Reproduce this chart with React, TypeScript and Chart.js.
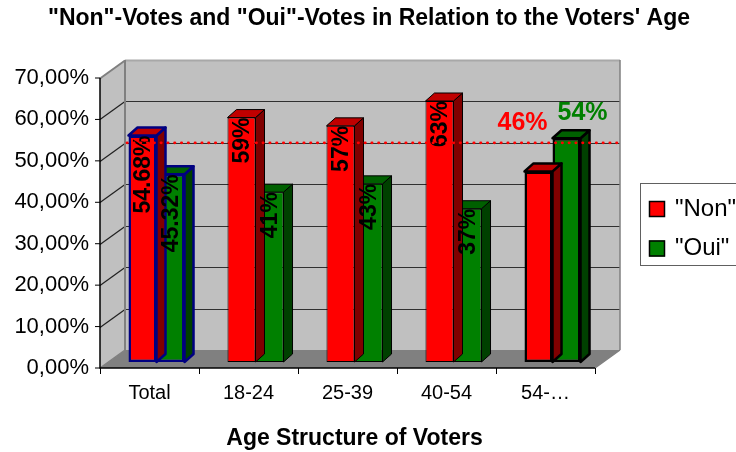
import React, { useEffect, useRef } from "react";
import { Chart, registerables } from "chart.js";

Chart.register(...registerables);

// ---- data ----
const ageGroups = ["Total", "18-24", "25-39", "40-54", "54-…"];
const nonVotes = [54.68, 59, 57, 63, 46];
const ouiVotes = [45.32, 41, 43, 37, 54];
const yTickValues = [0, 10, 20, 30, 40, 50, 60, 70];
const majorityShare = 50;
const seriesNames = ['"Non"', '"Oui"'];
const chartTitle = '"Non"-Votes and "Oui"-Votes in Relation to the Voters\' Age';
const axisTitle = "Age Structure of Voters";

// ---- styles ----
const FONT = '"Liberation Sans", Arial, Helvetica, sans-serif';
const frontColors = ["#ff0000", "#008000"];
const topColors = ["#c00000", "#006000"];
const sideColors = ["#800000", "#004000"];
const barBorderColors = ["#000080", "#000000", "#000000", "#000000", "#000000"];
const barBorderWidths = [2.5, 1, 1, 1, 2.5];
// value labels: rotated inside the bar, or horizontal above it
const labelModes = ["inside", "inside", "inside", "inside", "above"];
const aboveOffsets = [
  { dx: -16, dy: -48 },
  { dx: 16, dy: -25 },
];

// 3D geometry relative to the plane the bars stand in
const FRONT = { dx: -7, dy: 6 };
const BACK = { dx: 18, dy: -12 };
const BAR_DEPTH = { dx: 9, dy: 8 };

const fmtPct = (v: number) => `${v}%`;
const fmtAxis = (v: number) => v.toFixed(2).replace(".", ",") + "%";

function poly(ctx: CanvasRenderingContext2D, pts: number[][]) {
  ctx.beginPath();
  ctx.moveTo(pts[0][0], pts[0][1]);
  for (let i = 1; i < pts.length; i++) ctx.lineTo(pts[i][0], pts[i][1]);
  ctx.closePath();
}

const frame3d = {
  id: "frame3d",
  beforeDatasetsDraw(chart: any) {
    const { ctx, chartArea: a, scales } = chart;
    const x = scales.x;
    const y = scales.y;
    const yTop = y.getPixelForValue(yTickValues[yTickValues.length - 1]);
    const y0 = y.getPixelForValue(0);
    const fL = a.left + FRONT.dx;
    const fR = a.right + FRONT.dx;
    const bL = a.left + BACK.dx;
    const bR = a.right + BACK.dx;
    ctx.save();
    // back wall
    ctx.fillStyle = "#c0c0c0";
    ctx.fillRect(bL, yTop + BACK.dy, bR - bL, y0 - yTop);
    // left side wall
    poly(ctx, [
      [fL, yTop + FRONT.dy],
      [bL, yTop + BACK.dy],
      [bL, y0 + BACK.dy],
      [fL, y0 + FRONT.dy],
    ]);
    ctx.fillStyle = "#c0c0c0";
    ctx.fill();
    // floor
    poly(ctx, [
      [fL, y0 + FRONT.dy],
      [bL, y0 + BACK.dy],
      [bR, y0 + BACK.dy],
      [fR, y0 + FRONT.dy],
    ]);
    ctx.fillStyle = "#808080";
    ctx.fill();

    // grid lines on back and side walls
    yTickValues.forEach((v) => {
      if (v === 0) return;
      const py = Math.round(y.getPixelForValue(v)) + 0.5;
      const isTop = v === yTickValues[yTickValues.length - 1];
      ctx.lineWidth = isTop ? 2 : 1.2;
      ctx.strokeStyle = isTop ? "#a8a8a8" : "#303030";
      ctx.beginPath();
      ctx.moveTo(bL, py + BACK.dy);
      ctx.lineTo(bR, py + BACK.dy);
      ctx.stroke();
      ctx.strokeStyle = isTop ? "#808080" : "#202020";
      ctx.beginPath();
      ctx.moveTo(fL, py + FRONT.dy);
      ctx.lineTo(bL, py + BACK.dy);
      ctx.stroke();
    });
    // wall edges
    ctx.strokeStyle = "#808080";
    ctx.lineWidth = 2;
    ctx.beginPath();
    ctx.moveTo(bL, yTop + BACK.dy);
    ctx.lineTo(bL, y0 + BACK.dy);
    ctx.stroke();
    ctx.lineWidth = 1.5;
    ctx.beginPath();
    ctx.moveTo(bR, yTop + BACK.dy);
    ctx.lineTo(bR, y0 + BACK.dy);
    ctx.moveTo(fR, y0 + FRONT.dy);
    ctx.lineTo(bR, y0 + BACK.dy);
    ctx.moveTo(fL, y0 + FRONT.dy);
    ctx.lineTo(bL, y0 + BACK.dy);
    ctx.stroke();

    // front axes
    ctx.strokeStyle = "#000000";
    ctx.lineWidth = 1.5;
    ctx.beginPath();
    ctx.moveTo(fL, yTop + FRONT.dy);
    ctx.lineTo(fL, y0 + FRONT.dy);
    ctx.lineTo(fR, y0 + FRONT.dy);
    ctx.stroke();
    ctx.lineWidth = 1;
    ctx.beginPath();
    yTickValues.forEach((v) => {
      const py = y.getPixelForValue(v) + FRONT.dy;
      ctx.moveTo(fL - 5, py);
      ctx.lineTo(fL, py);
    });
    for (let i = 0; i <= ageGroups.length; i++) {
      const px = Math.round(x.getPixelForValue(i - 0.5) + FRONT.dx) + 0.5;
      ctx.moveTo(px, y0 + FRONT.dy);
      ctx.lineTo(px, y0 + FRONT.dy + 6);
    }
    ctx.stroke();
    ctx.restore();
  },
  beforeDatasetDraw(chart: any, args: any) {
    const { ctx } = chart;
    const di = args.index;
    const meta = args.meta;
    ctx.save();
    meta.data.forEach((bar: any, i: number) => {
      const { x, y, base, width } = bar.getProps(["x", "y", "base", "width"], true);
      const l = x - width / 2;
      const r = x + width / 2;
      ctx.lineWidth = barBorderWidths[i];
      ctx.strokeStyle = barBorderColors[i];
      ctx.lineJoin = "round";
      // side face
      poly(ctx, [
        [r, y],
        [r + BAR_DEPTH.dx, y - BAR_DEPTH.dy],
        [r + BAR_DEPTH.dx, base - BAR_DEPTH.dy],
        [r, base],
      ]);
      ctx.fillStyle = sideColors[di];
      ctx.fill();
      ctx.stroke();
      // top face
      poly(ctx, [
        [l, y],
        [l + BAR_DEPTH.dx, y - BAR_DEPTH.dy],
        [r + BAR_DEPTH.dx, y - BAR_DEPTH.dy],
        [r, y],
      ]);
      ctx.fillStyle = topColors[di];
      ctx.fill();
      ctx.stroke();
    });
    ctx.restore();
  },
  afterDatasetsDraw(chart: any) {
    const { ctx, chartArea: a, scales } = chart;
    const y = scales.y;
    ctx.save();
    // value labels
    chart.data.datasets.forEach((ds: any, di: number) => {
      const meta = chart.getDatasetMeta(di);
      meta.data.forEach((bar: any, i: number) => {
        const { x, y: top } = bar.getProps(["x", "y"], true);
        const text = fmtPct(ds.data[i]);
        if (labelModes[i] === "inside") {
          ctx.save();
          ctx.translate(x + 1, top);
          ctx.rotate(-Math.PI / 2);
          ctx.font = `bold 23px ${FONT}`;
          ctx.fillStyle = "#000000";
          ctx.textAlign = "right";
          ctx.textBaseline = "middle";
          ctx.fillText(text, 0, 0);
          ctx.restore();
        } else {
          const off = aboveOffsets[di];
          ctx.font = `bold 25px ${FONT}`;
          ctx.fillStyle = frontColors[di];
          ctx.textAlign = "center";
          ctx.textBaseline = "middle";
          ctx.fillText(text, x + off.dx, top + off.dy);
        }
      });
    });
    // majority line on the back wall
    const py = y.getPixelForValue(majorityShare) + BACK.dy;
    ctx.strokeStyle = "#ff0000";
    ctx.lineWidth = 2.8;
    ctx.lineCap = "round";
    ctx.setLineDash([0.3, 6.5]);
    ctx.beginPath();
    ctx.moveTo(a.left + BACK.dx + 2, py);
    ctx.lineTo(a.right + BACK.dx, py);
    ctx.stroke();
    ctx.setLineDash([]);
    ctx.restore();
  },
  afterDraw(chart: any) {
    const { ctx } = chart;
    ctx.save();
    // title
    ctx.font = `bold 23px ${FONT}`;
    ctx.fillStyle = "#000000";
    ctx.textAlign = "center";
    ctx.textBaseline = "middle";
    ctx.fillText(chartTitle, 369, 19);
    // legend
    const lx = 640.5;
    const ly = 183.5;
    ctx.fillStyle = "#ffffff";
    ctx.fillRect(lx, ly, 110, 82);
    ctx.strokeStyle = "#606060";
    ctx.lineWidth = 1;
    ctx.strokeRect(lx, ly, 110, 82);
    chart.data.datasets.forEach((ds: any, di: number) => {
      const sy = 201 + di * 39.5;
      ctx.fillStyle = frontColors[di];
      ctx.fillRect(649, sy, 16, 16);
      ctx.strokeStyle = "#000000";
      ctx.lineWidth = 1.5;
      ctx.strokeRect(649.5, sy + 0.5, 15, 15);
      ctx.font = `24px ${FONT}`;
      ctx.fillStyle = "#000000";
      ctx.textAlign = "left";
      ctx.textBaseline = "middle";
      ctx.fillText(ds.label, 675, sy + 8);
    });
    ctx.restore();
  },
};

export default function App() {
  const ref = useRef<HTMLCanvasElement | null>(null);
  useEffect(() => {
    if (!ref.current) return;
    const chart = new Chart(ref.current, {
      type: "bar",
      data: {
        labels: ageGroups,
        datasets: [
          {
            label: seriesNames[0],
            data: nonVotes,
            backgroundColor: frontColors[0],
            borderColor: barBorderColors,
            borderWidth: barBorderWidths,
            borderSkipped: false,
          },
          {
            label: seriesNames[1],
            data: ouiVotes,
            backgroundColor: frontColors[1],
            borderColor: barBorderColors,
            borderWidth: barBorderWidths,
            borderSkipped: false,
          },
        ],
      },
      plugins: [frame3d],
      options: {
        responsive: false,
        animation: false,
        devicePixelRatio: 1,
        layout: { padding: { left: 0, right: 134, top: 72, bottom: 0 } },
        datasets: {
          bar: { categoryPercentage: 0.566, barPercentage: 1 },
        },
        plugins: {
          legend: { display: false },
          title: { display: false },
          tooltip: { enabled: false },
        },
        scales: {
          x: {
            type: "category",
            grid: { display: false, drawTicks: false },
            border: { display: false },
            ticks: {
              font: { family: FONT, size: 20 },
              color: "#000000",
              padding: 19,
              labelOffset: FRONT.dx,
              maxRotation: 0,
              autoSkip: false,
            },
            title: {
              display: true,
              text: axisTitle,
              font: { family: FONT, size: 23, weight: "bold" },
              color: "#000000",
              padding: { top: 0, bottom: 0 },
            },
            afterFit: (s: any) => {
              s.height = 90;
            },
          },
          y: {
            min: 0,
            max: yTickValues[yTickValues.length - 1],
            grid: { display: false, drawTicks: false },
            border: { display: false },
            afterBuildTicks: (s: any) => {
              s.ticks = yTickValues.map((v) => ({ value: v }));
            },
            ticks: {
              font: { family: FONT, size: 22 },
              color: "#000000",
              padding: 18,
              labelOffset: FRONT.dy,
              callback: (v: any) => fmtAxis(Number(v)),
            },
            afterFit: (s: any) => {
              s.width = 107;
            },
          },
        },
      } as any,
    });
    return () => chart.destroy();
  }, []);
  return (
    <div style={{ position: "absolute", left: 0, top: 0, width: 736, height: 452, background: "#ffffff" }}>
      <canvas ref={ref} width={736} height={452} />
    </div>
  );
}
